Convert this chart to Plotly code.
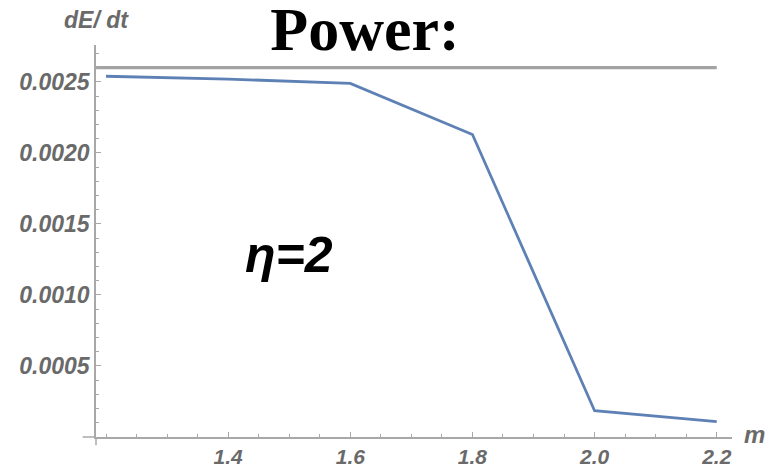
import plotly.graph_objects as go

# Data
m_values = [1.2, 1.4, 1.6, 1.8, 2.0, 2.2]
power_values = [0.00254, 0.00252, 0.00249, 0.00213, 0.000185, 0.000108]
limit_value = 0.0026
x_tick_vals = [1.4, 1.6, 1.8, 2.0, 2.2]
x_tick_text = ["1.4", "1.6", "1.8", "2.0", "2.2"]
y_tick_vals = [0.0005, 0.0010, 0.0015, 0.0020, 0.0025]
y_tick_text = ["0.0005", "0.0010", "0.0015", "0.0020", "0.0025"]

X_RANGE = [1.1836, 2.225]
Y_RANGE = [0.0, 0.00276]

axis_color = "#a8a8a8"
label_color = "#6a6a6a"
y_tick_font = dict(family="Liberation Sans, Arial", size=23, color=label_color,
                   style="italic", weight="bold")
x_tick_font = dict(family="Liberation Sans, Arial", size=21, color=label_color,
                   style="italic", weight="bold")

fig = go.Figure()
fig.add_trace(go.Scatter(
    x=[X_RANGE[0], m_values[-1]], y=[limit_value, limit_value],
    mode="lines", line=dict(color="#a3a3a3", width=3.2),
    hoverinfo="skip", showlegend=False, cliponaxis=False))
fig.add_trace(go.Scatter(
    x=m_values, y=power_values, mode="lines",
    line=dict(color="#5e81b5", width=2.8), showlegend=False))

# the page body has an 8px margin, so the figure is sized to fit the window
fig.update_layout(
    width=771, height=460,
    margin=dict(l=88, r=47, t=37, b=31),
    paper_bgcolor="white", plot_bgcolor="white",
    title=dict(text="Power:", x=0.463, xanchor="center", xref="container",
               y=0.955, yanchor="middle", yref="container",
               font=dict(family="Liberation Serif, Times New Roman", size=62,
                         color="black", weight="bold")),
    xaxis=dict(range=X_RANGE, showgrid=False, zeroline=False, automargin=False,
               showline=True, linecolor=axis_color, linewidth=1.5,
               tickmode="array", tickvals=x_tick_vals, ticktext=x_tick_text,
               ticks="inside", ticklen=5, tickcolor=axis_color, tickwidth=1,
               tickfont=x_tick_font,
               minor=dict(tickmode="linear", tick0=1.2, dtick=0.05,
                          ticks="inside", ticklen=3, tickcolor=axis_color)),
    yaxis=dict(range=Y_RANGE, showgrid=False, zeroline=False, automargin=False,
               showline=True, linecolor=axis_color, linewidth=1.5,
               tickmode="array", tickvals=y_tick_vals, ticktext=y_tick_text,
               ticks="inside", ticklen=5, tickcolor=axis_color, tickwidth=1,
               tickfont=y_tick_font,
               minor=dict(tickmode="linear", tick0=0, dtick=0.0001,
                          ticks="inside", ticklen=3, tickcolor=axis_color)),
    annotations=[
        dict(text="dE/ dt", x=0, xref="paper", xanchor="center",
             y=1, yref="paper", yanchor="bottom", yshift=10,
             showarrow=False,
             font=dict(family="Liberation Sans, Arial", size=23,
                       color=label_color, style="italic", weight="bold")),
        dict(text="m", x=1, xref="paper", xanchor="left", xshift=10,
             y=0, yref="paper", yanchor="middle", yshift=3,
             showarrow=False,
             font=dict(family="Liberation Sans, Arial", size=24,
                       color=label_color, style="italic", weight="bold")),
        dict(text="η=2", x=1.5, xref="x", xanchor="center",
             y=0.00128, yref="y", yanchor="middle",
             showarrow=False,
             font=dict(family="Liberation Sans, Arial", size=50,
                       color="black", style="italic", weight="bold")),
    ],
    shapes=[
        dict(type="line", xref="paper", yref="paper", x0=-0.021, x1=0,
             y0=0, y1=0, line=dict(color=axis_color, width=1.5)),
        dict(type="line", xref="paper", yref="paper", x0=0, x1=0,
             y0=-0.021, y1=0, line=dict(color=axis_color, width=1.5)),
    ],
)

fig.write_html("out.html")
